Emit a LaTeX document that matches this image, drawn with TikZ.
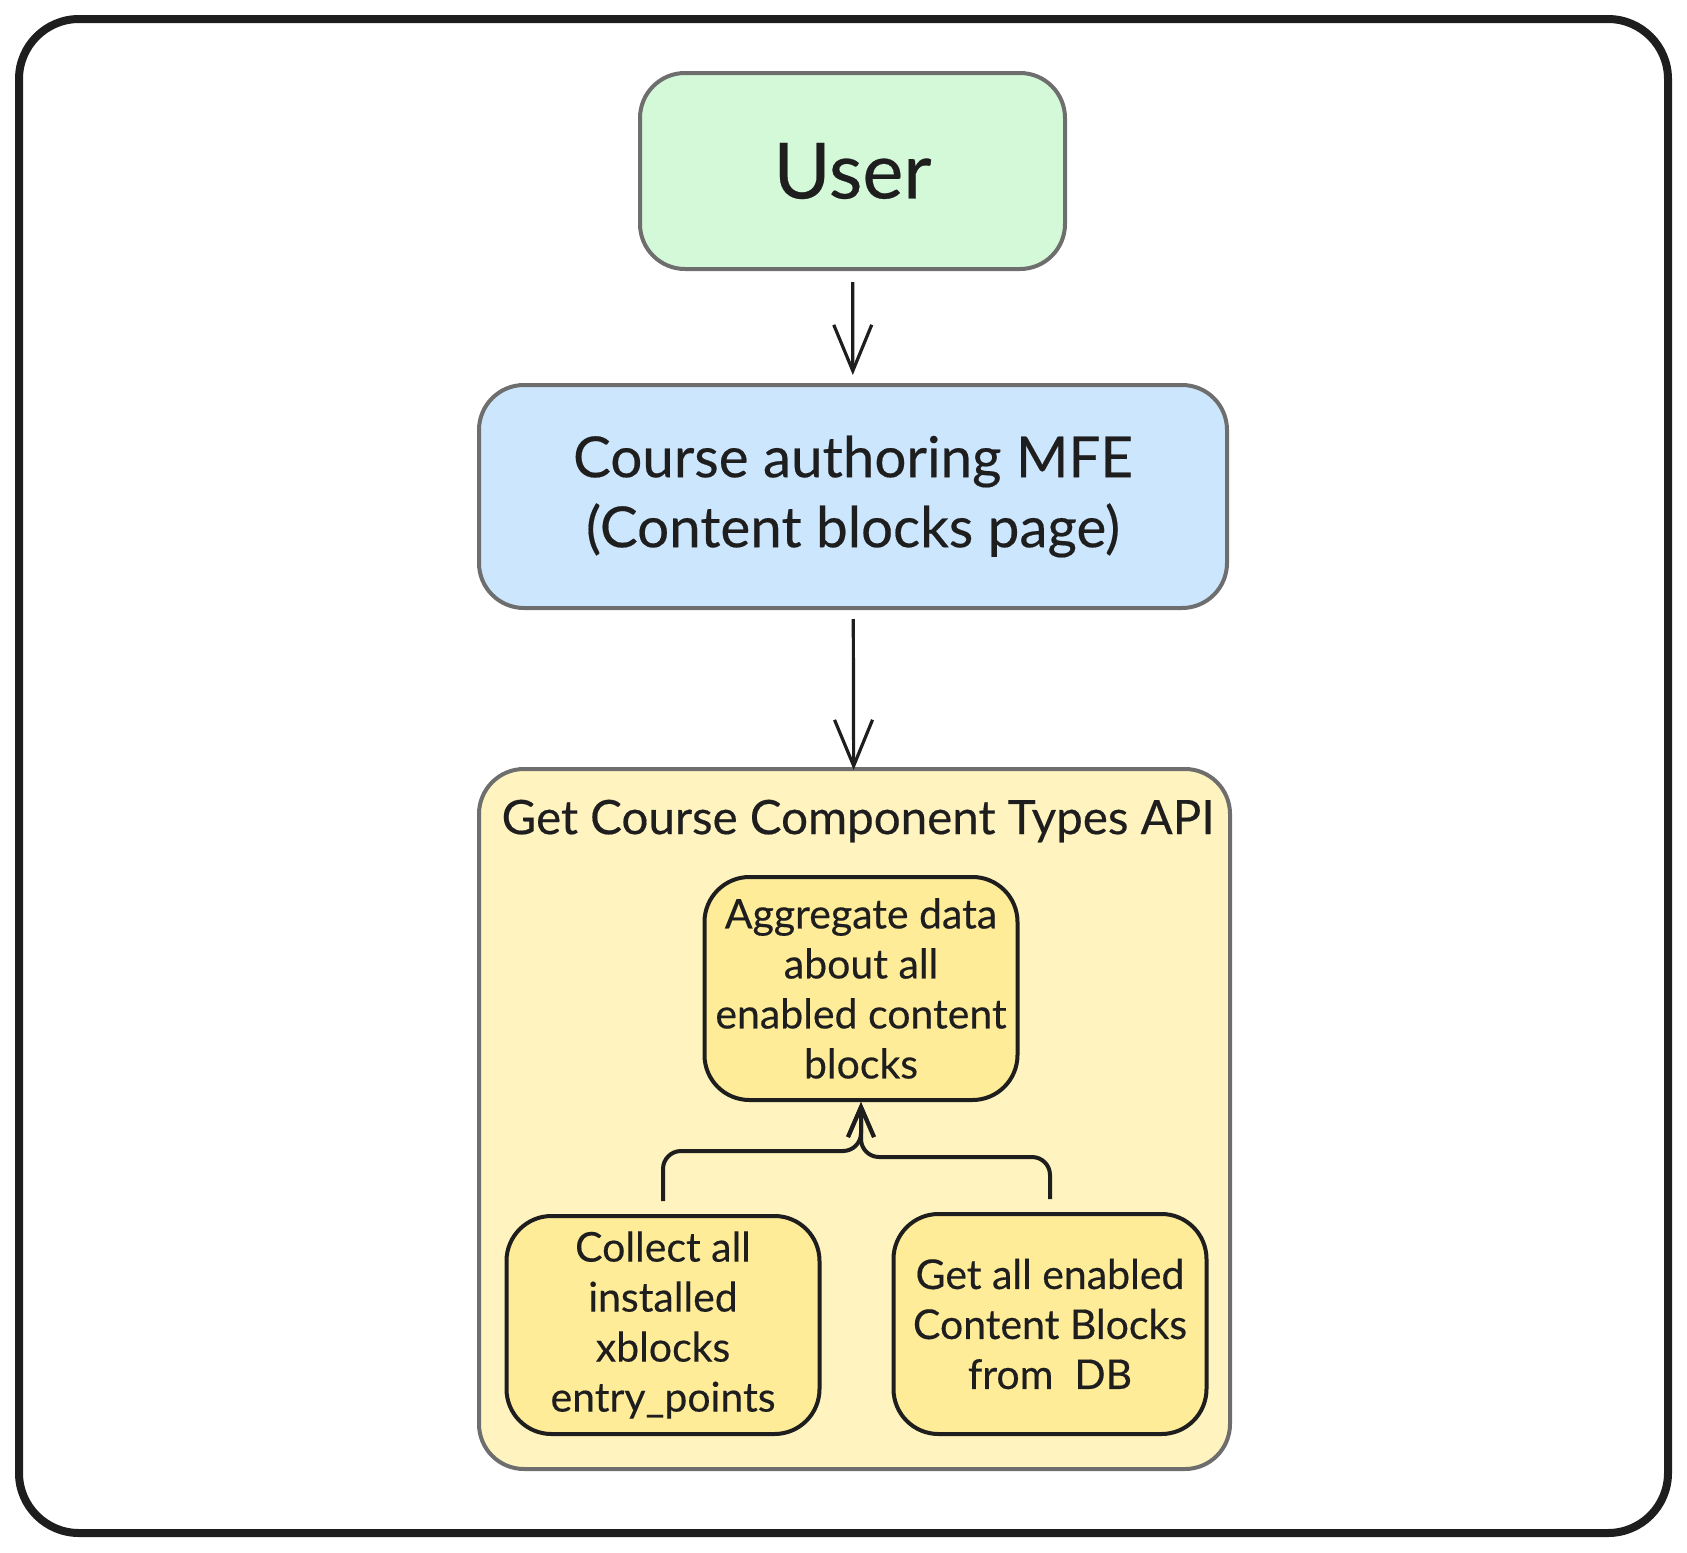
\documentclass[tikz,border=0pt]{standalone}
\usepackage{fontspec}
\setmainfont{Lato}[FakeBold=0.3,AutoFakeBold=0.3]
\newfontfamily\medfont{Lato}[FakeBold=0.35]
\usetikzlibrary{arrows.meta}
\definecolor{ink}{HTML}{1E1E1E}
\definecolor{grayline}{HTML}{6E6E6E}
\definecolor{greenfill}{HTML}{D3F9D8}
\definecolor{bluefill}{HTML}{CCE6FE}
\definecolor{apifill}{HTML}{FFF3BF}
\definecolor{stepfill}{HTML}{FFEC99}
\tikzset{
  outerbox/.style={line width=4pt, draw=grayline, rounded corners=45pt, inner sep=0pt, text=ink},
  stepbox/.style={line width=4pt, draw=ink, fill=stepfill, rounded corners=45pt, inner sep=0pt, text=ink,
    minimum width=313pt, align=center, font=\medfont\fontsize{41}{50}\selectfont},
  arr/.style={line width=3.2pt, draw=ink, -{Straight Barb[length=46pt, width=38pt]}},
  conn/.style={line width=4pt, draw=ink, rounded corners=18pt, -{Straight Barb[length=30pt, width=26pt]}}
}
\begin{document}
\begin{tikzpicture}[x=1pt, y=-1pt]
\useasboundingbox (0,0) rectangle (1687,1553);
\draw[line width=8pt, draw=ink, rounded corners=60pt] (19,19) rectangle (1668,1533);

\node[outerbox, fill=greenfill, minimum width=425pt, minimum height=196pt,
      font=\medfont\fontsize{77.5}{90}\selectfont] (user) at (852.5,171) {User};
\node[outerbox, fill=bluefill, minimum width=748pt, minimum height=223pt, align=center,
      font=\medfont\fontsize{56.5}{70}\selectfont] (mfe) at (853,496.5) {Course authoring MFE\\(Content blocks page)};
\node[outerbox, fill=apifill, minimum width=751pt, minimum height=700pt] (api) at (854.5,1119) {};
\node[text=ink, font=\medfont\fontsize{47.5}{56}\selectfont, inner sep=0pt] (title) at (858,821) {Get Course Component Types API};

\node[stepbox, minimum height=223pt] (agg) at (861,988.5) {Aggregate data\\about all\\enabled content\\blocks};
\node[stepbox, minimum height=218pt] (collect) at (663,1325) {Collect all\\installed\\xblocks\\entry\_points};
\node[stepbox, minimum height=220pt] (getall) at (1050,1324) {Get all enabled\\Content Blocks\\from~~DB};

\draw[arr, shorten <=11pt, shorten >=8pt] (user) -- (mfe);
\draw[arr, shorten <=9pt, shorten >=-3pt] (mfe) -- (api);

\coordinate (jl) at (861,1151);
\coordinate (jr) at (861,1157);
\draw[conn, shorten <=13pt] (collect.north) |- (jl) -- (agg.south);
\draw[conn, shorten <=13pt] (getall.north) |- (jr) -- (agg.south);
\end{tikzpicture}
\end{document}
